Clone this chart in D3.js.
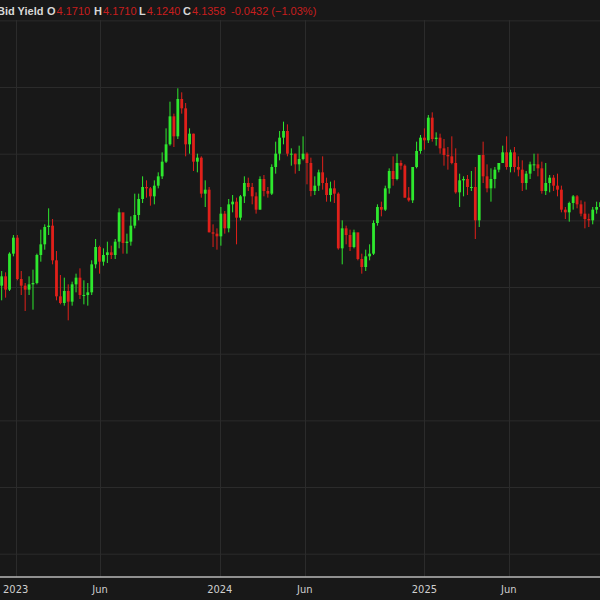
<!DOCTYPE html>
<html lang="en">
<head>
<meta charset="UTF-8">
<title>Bid Yield</title>
<script src="https://d3js.org/d3.v7.min.js"></script>
<style>
  body { margin: 0; background: #181818; }
  svg { display: block; }
</style>
</head>
<body>
<svg id="chart" width="600" height="600"></svg>
<script>
// weekly bars, week ending Friday, first = 2022-12-02
const firstWeek = "2022-12-02";
const opens = [3.61,3.51,3.58,3.48,3.75,
  3.87,3.56,3.51,3.48,3.52,3.53,3.74,3.82,3.95,3.96,3.70,3.43,3.38,3.47,3.39,3.52,3.57,3.44,3.44,3.46,3.67,3.80,3.69,3.74,3.76,3.74,3.84,4.06,3.83,3.84,3.96,4.04,4.16,4.25,4.24,4.18,4.26,4.33,4.44,4.57,4.78,4.63,4.91,4.84,4.57,4.65,4.44,4.47,4.20,4.23,3.91,3.90,
  3.88,4.05,3.94,4.12,4.14,4.02,4.18,4.28,4.25,4.18,4.08,4.31,4.22,4.20,4.40,4.50,4.62,4.67,4.50,4.50,4.42,4.46,4.50,4.43,4.22,4.26,4.36,4.28,4.19,4.24,4.20,3.79,3.94,3.89,3.80,3.91,3.71,3.65,3.73,3.75,3.98,4.10,4.08,4.24,4.37,4.31,4.43,4.41,4.17,4.15,4.40,4.52,
  4.62,4.60,4.77,4.61,4.62,4.54,4.49,4.48,4.43,4.21,4.30,4.31,4.25,4.25,4.00,4.49,4.33,4.24,4.31,4.38,4.43,4.51,4.40,4.51,4.40,4.38,4.28,4.35,4.42,4.42,4.39,4.22,4.28,4.32,4.26,4.23,4.08,4.06,4.13,4.18,4.12,4.05,4.01,4.00,4.08,4.10];
const highs = [3.64,3.62,3.61,3.76,3.89,
  3.89,3.62,3.53,3.58,3.63,3.75,3.93,3.97,4.09,4.01,3.77,3.59,3.57,3.52,3.54,3.60,3.64,3.55,3.53,3.70,3.86,3.81,3.79,3.84,3.81,3.86,4.09,4.03,3.90,4.03,4.20,4.20,4.33,4.30,4.25,4.30,4.36,4.51,4.69,4.89,4.80,4.99,4.96,4.88,4.69,4.65,4.50,4.48,4.30,4.25,3.97,3.94,
  4.10,4.07,4.16,4.19,4.17,4.19,4.33,4.32,4.28,4.21,4.33,4.34,4.25,4.42,4.59,4.67,4.74,4.72,4.54,4.50,4.56,4.63,4.51,4.47,4.33,4.38,4.48,4.32,4.29,4.30,4.21,4.00,3.96,3.93,3.93,3.90,3.75,3.78,3.82,4.00,4.12,4.14,4.26,4.39,4.48,4.50,4.45,4.42,4.25,4.40,4.59,4.64,
  4.69,4.79,4.81,4.66,4.65,4.61,4.55,4.63,4.54,4.35,4.33,4.34,4.37,4.40,4.37,4.59,4.42,4.39,4.40,4.39,4.56,4.63,4.53,4.55,4.48,4.45,4.37,4.44,4.50,4.50,4.44,4.43,4.34,4.34,4.35,4.26,4.10,4.14,4.19,4.19,4.15,4.14,4.05,4.10,4.14,4.17];
const lows = [3.42,3.40,3.42,3.47,3.73,
  3.55,3.44,3.32,3.44,3.33,3.52,3.69,3.78,3.89,3.67,3.40,3.37,3.36,3.25,3.36,3.46,3.41,3.37,3.36,3.44,3.64,3.60,3.66,3.68,3.71,3.71,3.79,3.75,3.75,3.81,3.94,4.00,4.13,4.17,4.11,4.12,4.24,4.31,4.43,4.56,4.55,4.61,4.80,4.48,4.50,4.37,4.36,4.17,4.10,3.91,3.80,3.78,
  3.81,3.90,3.91,4.06,3.82,4.00,4.13,4.22,4.12,4.05,4.08,4.18,4.17,4.19,4.35,4.45,4.57,4.48,4.41,4.35,4.37,4.45,4.27,4.18,4.19,4.22,4.23,4.14,4.14,4.13,3.78,3.67,3.82,3.77,3.79,3.70,3.60,3.62,3.70,3.74,3.96,4.03,4.07,4.20,4.26,4.30,4.38,4.17,4.14,4.13,4.39,4.50,
  4.53,4.58,4.59,4.56,4.50,4.41,4.38,4.42,4.20,4.10,4.18,4.19,4.22,3.86,3.95,4.28,4.21,4.14,4.24,4.36,4.43,4.38,4.36,4.36,4.33,4.22,4.23,4.31,4.37,4.33,4.20,4.19,4.21,4.22,4.18,4.06,4.01,3.99,4.08,4.09,4.03,3.94,3.95,3.97,4.05,4.07];
const closes = [3.51,3.58,3.48,3.75,3.87,
  3.56,3.51,3.48,3.52,3.53,3.74,3.82,3.95,3.96,3.70,3.43,3.38,3.47,3.39,3.52,3.57,3.44,3.44,3.46,3.67,3.80,3.69,3.74,3.76,3.74,3.84,4.06,3.83,3.84,3.96,4.04,4.16,4.25,4.24,4.18,4.26,4.33,4.44,4.57,4.78,4.63,4.91,4.84,4.57,4.65,4.44,4.47,4.20,4.23,3.91,3.90,3.88,
  4.05,3.94,4.12,4.14,4.02,4.18,4.28,4.25,4.18,4.08,4.31,4.22,4.20,4.40,4.50,4.62,4.67,4.50,4.50,4.42,4.46,4.50,4.43,4.22,4.26,4.36,4.28,4.19,4.24,4.20,3.79,3.94,3.89,3.80,3.91,3.71,3.65,3.73,3.75,3.98,4.10,4.08,4.24,4.37,4.31,4.43,4.41,4.17,4.15,4.40,4.52,4.62,
  4.60,4.77,4.61,4.62,4.54,4.49,4.48,4.43,4.21,4.30,4.31,4.25,4.25,4.00,4.49,4.33,4.24,4.31,4.38,4.43,4.51,4.40,4.51,4.40,4.38,4.28,4.35,4.42,4.42,4.39,4.22,4.28,4.32,4.26,4.23,4.08,4.06,4.13,4.18,4.12,4.05,4.01,4.00,4.08,4.10,4.1358];
const gridValues = [5.5,5.0,4.5,4.0,3.5,3.0,2.5,2.0,1.5];
const tickDates = ["2023-01-01","2023-06-01","2024-01-01","2024-06-01","2025-01-01","2025-06-01"];
const tickLabels = ["2023","Jun","2024","Jun","2025","Jun"];
const header = [["Bid Yield",""],["O","4.1710"],["H","4.1710"],["L","4.1240"],["C","4.1358"],["","-0.0432 (\u22121.03%)"]];

const W = 600, H = 600, axisY = 577;
const svg = d3.select("#chart");
const parse = d3.utcParse("%Y-%m-%d");

const x = d3.scaleUtc()
  .domain([parse("2022-12-04"), parse("2025-11-11")])
  .range([0, W]);
const y = d3.scaleLinear().domain([3.5, 5.0]).range([287, 87]);

svg.append("rect").attr("width", W).attr("height", H).attr("fill", "#181818");

const plot = svg.append("g");
plot.append("clipPath").attr("id", "clip").append("rect").attr("width", W).attr("height", axisY);

// grid
plot.selectAll(".hg").data(gridValues).join("line")
  .attr("x1", 0).attr("x2", W)
  .attr("y1", d => y(d) + 0.5).attr("y2", d => y(d) + 0.5)
  .attr("stroke", "#2b2b2b");
plot.selectAll(".vg").data(tickDates).join("line")
  .attr("x1", d => Math.round(x(parse(d))) + 0.5).attr("x2", d => Math.round(x(parse(d))) + 0.5)
  .attr("y1", 20).attr("y2", axisY)
  .attr("stroke", "#2b2b2b");

// candles
const start = parse(firstWeek);
const bars = closes.map((c, i) => ({
  date: d3.utcDay.offset(start, i * 7 - 2),
  o: opens[i], h: highs[i], l: lows[i], c
}));
const up = "#2ee82e", down = "#e0201a";
const cg = plot.append("g").attr("clip-path", "url(#clip)");
cg.selectAll(".wick").data(bars).join("line")
  .attr("x1", d => x(d.date)).attr("x2", d => x(d.date))
  .attr("y1", d => y(d.h)).attr("y2", d => y(d.l))
  .attr("stroke", d => d.c >= d.o ? up : down).attr("stroke-width", 1);
cg.selectAll(".body").data(bars).join("rect")
  .attr("x", d => x(d.date) - 1.4).attr("width", 2.8)
  .attr("y", d => y(Math.max(d.o, d.c)))
  .attr("height", d => Math.max(1, Math.abs(y(d.o) - y(d.c))))
  .attr("fill", d => d.c >= d.o ? up : down);

// x axis
svg.append("line").attr("x1", 0).attr("x2", W).attr("y1", axisY).attr("y2", axisY)
  .attr("stroke", "#b8b8b8").attr("stroke-width", 1.5);
svg.selectAll(".xl").data(tickDates).join("text")
  .attr("x", d => x(parse(d))).attr("y", 593)
  .attr("text-anchor", "middle")
  .attr("fill", "#cfcfcf").attr("font-family", "'Liberation Sans Narrow', 'DejaVu Sans Condensed', Arial, sans-serif")
  .attr("font-size", 11)
  .text((d, i) => tickLabels[i]);

// header
const hx = [-3, 47, 94, 139, 183, 231];
const hg = svg.append("g").attr("font-family", "'Liberation Sans', Arial, sans-serif").attr("font-size", 11);
header.forEach((h, i) => {
  const t = hg.append("text").attr("x", hx[i]).attr("y", 15);
  t.append("tspan").attr("fill", "#d8d8d8").attr("font-weight", "bold").text(h[0]);
  t.append("tspan").attr("fill", "#c81e1e").attr("dx", h[0] && h[1] ? 1 : 0).text(h[1]);
});
</script>
</body>
</html>
